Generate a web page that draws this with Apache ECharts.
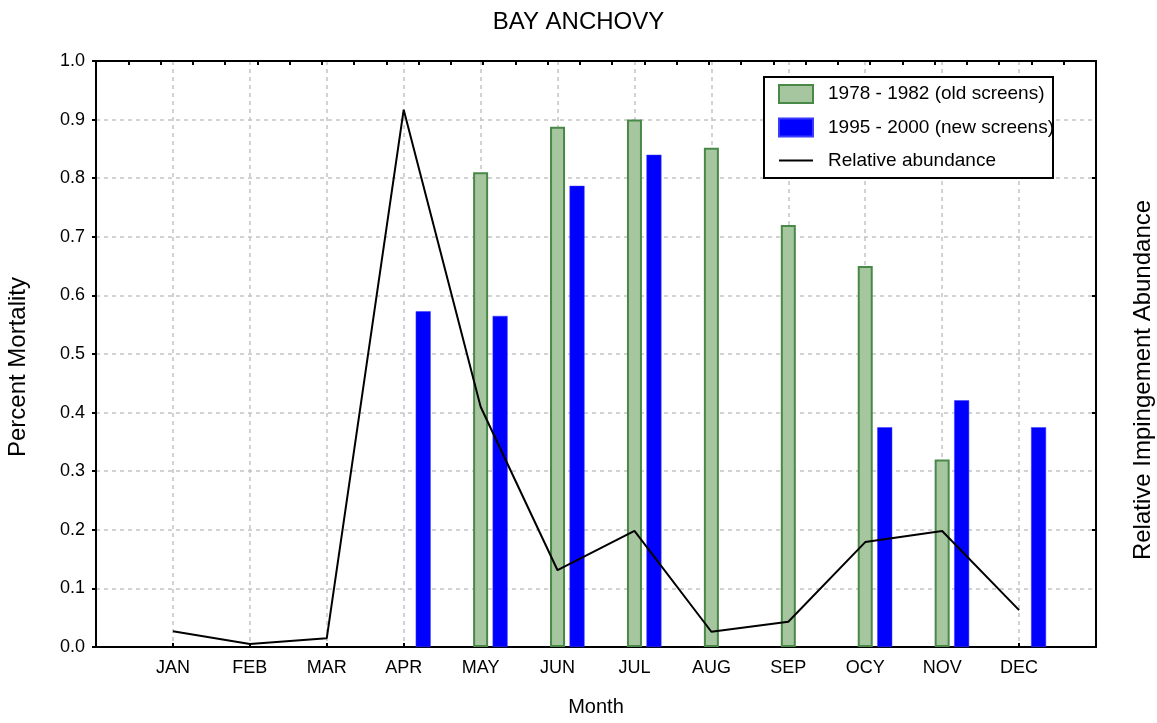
<!DOCTYPE html>
<html>
<head>
<meta charset="utf-8">
<script src="https://cdn.jsdelivr.net/npm/echarts@6/dist/echarts.min.js"></script>
<style>html,body{margin:0;padding:0;background:#fff}#c{width:1157px;height:723px}</style>
</head>
<body>
<div id="c"></div>
<script>
var months = ['JAN','FEB','MAR','APR','MAY','JUN','JUL','AUG','SEP','OCY','NOV','DEC'];
var oldScreens = [null,null,null,null,0.81,0.888,0.90,0.852,0.72,0.65,0.32,null];
var newScreens = [null,null,null,0.573,0.565,0.787,0.84,null,null,0.375,0.421,0.375];
var abundance = [0.027,0.005,0.015,0.917,0.41,0.131,0.198,0.026,0.043,0.179,0.198,0.063];

var cats = [''].concat(months).concat(['']);
function pad(a){ return [null].concat(a).concat([null]); }
var FONT = 'Liberation Sans, Arial, sans-serif';

var chart = echarts.init(document.getElementById('c'), null, {renderer:'canvas'});
chart.setOption({
  animation:false,
  backgroundColor:'#fff',
  textStyle:{fontFamily:FONT,color:'#000'},
  title:{text:'BAY ANCHOVY',left:'center',top:5,textStyle:{fontFamily:FONT,fontSize:24,fontWeight:'normal',color:'#000'}},
  grid:{left:96,right:61,top:61,bottom:76,outerBoundsMode:'none',containLabel:false},
  graphic:[{type:'rect',shape:{x:764,y:77,width:289,height:101},style:{fill:'#fff',stroke:'#000',lineWidth:2},z:50}],
  legend:{
    left:778,top:84,orient:'vertical',itemWidth:34,itemHeight:18,itemGap:13.5,
    padding:0,z:60,
    textStyle:{fontFamily:FONT,fontSize:19,color:'#000',padding:[0,0,0,10],lineHeight:18},
    data:[
      {name:'1978 - 1982 (old screens)',icon:'rect'},
      {name:'1995 - 2000 (new screens)',icon:'rect'},
      {name:'Relative abundance',icon:'path://M0,8L34,8L34,10L0,10Z M0,0L0.01,0 M0,18L0.01,18'}
    ]
  },
  xAxis:[{
    type:'category',data:cats,boundaryGap:false,position:'bottom',
    name:'Month',nameLocation:'middle',nameGap:50,nameTextStyle:{fontFamily:FONT,fontSize:20,color:'#000'},
    axisLine:{onZero:false,lineStyle:{color:'#000',width:2}},
    axisTick:{show:true,inside:true,length:4,interval:0,lineStyle:{color:'#000',width:2}},
    axisLabel:{interval:0,fontFamily:FONT,fontSize:18,color:'#000',margin:12},
    splitLine:{show:true,interval:0,lineStyle:{color:'#c4c4c4',width:1.5,type:[4,4]}}
  },{
    type:'value',min:0,max:31,interval:1,position:'top',
    axisLine:{show:true,onZero:false,lineStyle:{color:'#000',width:2}},
    axisTick:{show:true,inside:true,length:4,lineStyle:{color:'#000',width:2}},
    axisLabel:{show:false},splitLine:{show:false}
  }],
  yAxis:[{
    type:'value',min:0,max:1,interval:0.1,position:'left',
    name:'Percent Mortality',nameLocation:'middle',nameGap:66,nameRotate:90,
    nameTextStyle:{fontFamily:FONT,fontSize:24,color:'#000',padding:[0,26,0,0]},
    axisLine:{show:true,onZero:false,lineStyle:{color:'#000',width:2}},
    axisTick:{show:true,inside:false,length:4,lineStyle:{color:'#000',width:2}},
    axisLabel:{fontFamily:FONT,fontSize:18,color:'#000',margin:11,formatter:function(v){return v.toFixed(1);}},
    splitLine:{show:true,lineStyle:{color:'#c4c4c4',width:1.5,type:[4,4]}}
  },{
    type:'value',min:0,max:1,interval:0.2,position:'right',
    name:'Relative Impingement Abundance',nameLocation:'middle',nameGap:35,nameRotate:90,
    nameTextStyle:{fontFamily:FONT,fontSize:24,color:'#000',padding:[0,52,0,0]},
    axisLine:{show:true,onZero:false,lineStyle:{color:'#000',width:2}},
    axisTick:{show:true,inside:true,length:4,lineStyle:{color:'#000',width:2}},
    axisLabel:{show:false},splitLine:{show:false}
  }],
  series:[
    {name:'_pad',type:'bar',data:pad(months.map(function(){return null;})),barWidth:15,barGap:'30%',silent:true},
    {name:'1978 - 1982 (old screens)',type:'bar',data:pad(oldScreens),barWidth:15,barGap:'30%',
     itemStyle:{color:'#a6c6a0',borderColor:'#4a8848',borderWidth:2}},
    {name:'1995 - 2000 (new screens)',type:'bar',data:pad(newScreens),barWidth:15,barGap:'30%',
     itemStyle:{color:'#0000ff',borderColor:'#3a3aff',borderWidth:0.5}},
    {name:'Relative abundance',type:'line',data:pad(abundance),symbol:'none',showSymbol:false,
     lineStyle:{color:'#000',width:2},itemStyle:{color:'#000'},z:5}
  ]
});
</script>
</body>
</html>
